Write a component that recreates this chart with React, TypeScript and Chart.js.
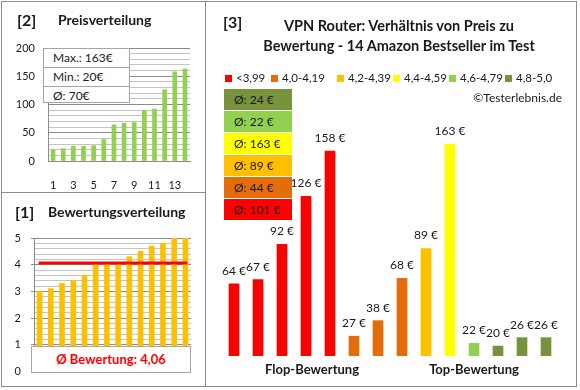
import React, { useEffect, useRef } from 'react';
import { Chart, registerables } from 'chart.js';

Chart.register(...registerables);

const FONT = 'Lato, "Open Sans", sans-serif';
const TEXT = '#1a1a1a';

// Panel [2] Preisverteilung
const priceCats = ['1', '2', '3', '4', '5', '6', '7', '8', '9', '10', '11', '12', '13', '14'];
const prices = [20, 22, 26, 26, 27, 38, 64, 67, 68, 89, 92, 126, 158, 163];

// Panel [1] Bewertungsverteilung
const ratingCats = ['1', '2', '3', '4', '5', '6', '7', '8', '9', '10', '11', '12', '13', '14'];
const ratings = [3.0, 3.1, 3.3, 3.4, 3.6, 4.0, 4.0, 4.0, 4.3, 4.5, 4.7, 4.8, 5.0, 5.0];
const ratingAvg = 4.06;

// Panel [3] Verhältnis von Preis zu Bewertung
const mainCats = ['1', '2', '3', '4', '5', '6', '7', '8', '9', '10', '11', '12', '13', '14'];
const mainPrices = [64, 67, 92, 126, 158, 27, 38, 68, 89, 163, 22, 20, 26, 26];
const mainGroup = [0, 0, 0, 0, 0, 1, 1, 1, 2, 3, 4, 5, 5, 5];
const legendLabels = ['<3,99', '4,0-4,19', '4,2-4,39', '4,4-4,59', '4,6-4,79', '4,8-5,0'];
const legendColors = ['#ff0000', '#e46c0a', '#ffc000', '#ffff00', '#92d050', '#77933c'];
const groupAverages = [101, 44, 89, 163, 22, 24];
const axisGroups = ['Flop-Bewertung', 'Top-Bewertung'];
const mainAxisMin = 13;
const mainAxisMax = 180;

Chart.defaults.font.family = FONT;
Chart.defaults.color = TEXT;

function T(props: { x: number; y: number; size: number; bold?: boolean; color?: string; align?: 'left' | 'center' | 'right'; children: React.ReactNode }) {
  const { x, y, size, bold, color, align = 'left', children } = props;
  const tx = align === 'center' ? '-50%' : align === 'right' ? '-100%' : '0';
  return (
    <div
      style={{
        position: 'absolute',
        left: x,
        top: y,
        transform: `translate(${tx}, -50%)`,
        fontSize: size,
        fontWeight: bold ? 700 : 400,
        color: color || TEXT,
        whiteSpace: 'nowrap',
        lineHeight: 1,
      }}
    >
      {children}
    </div>
  );
}

export default function App() {
  const c2 = useRef<HTMLCanvasElement>(null);
  const c1 = useRef<HTMLCanvasElement>(null);
  const c3 = useRef<HTMLCanvasElement>(null);

  useEffect(() => {
    const isInt = (v: number) => Math.abs(v - Math.round(v)) < 1e-6;

    const chart2 = new Chart(c2.current!, {
      type: 'bar',
      data: {
        labels: priceCats,
        datasets: [{ data: prices, backgroundColor: '#92d050', barThickness: 4 }],
      },
      options: {
        responsive: false,
        animation: false,
        layout: { padding: { top: 48, right: 10, left: 0, bottom: 0 } },
        plugins: { legend: { display: false }, tooltip: { enabled: false } },
        scales: {
          x: {
            grid: { display: false },
            border: { color: '#8c8c8c' },
            ticks: {
              autoSkip: false,
              maxRotation: 0,
              padding: 10,
              font: { size: 11 },
              callback: (_v: any, i: number) => (i % 2 === 0 ? priceCats[i] : ''),
            },
            afterFit: (s: any) => { s.height = 31; },
          },
          y: {
            min: 0,
            max: 200,
            grid: {
              drawTicks: false,
              color: (ctx: any) => (ctx.tick && ctx.tick.value % 50 === 0 ? '#8c8c8c' : '#c4c4c4'),
            },
            border: { color: '#8c8c8c' },
            ticks: {
              stepSize: 10,
              autoSkip: false,
              padding: 13,
              font: { size: 11 },
              callback: (v: any) => (Number(v) % 50 === 0 ? String(v) : ''),
            },
            afterFit: (s: any) => { s.width = 48; },
          },
        },
      },
    } as any);

    const avgLine = {
      id: 'avgLine',
      afterDatasetsDraw(chart: any) {
        const { ctx, scales } = chart;
        const y = scales.y.getPixelForValue(ratingAvg);
        const x0 = scales.x.getPixelForValue(0) - 1;
        const x1 = scales.x.getPixelForValue(ratings.length - 1) + 2;
        ctx.save();
        ctx.strokeStyle = '#ff0000';
        ctx.lineWidth = 3;
        ctx.beginPath();
        ctx.moveTo(x0, y);
        ctx.lineTo(x1, y);
        ctx.stroke();
        ctx.restore();
      },
    };

    const chart1 = new Chart(c1.current!, {
      type: 'bar',
      data: {
        labels: ratingCats,
        datasets: [{ data: ratings, backgroundColor: '#ffc000', barThickness: 5 }],
      },
      options: {
        responsive: false,
        animation: false,
        layout: { padding: { top: 46, right: 14, left: 0, bottom: 14 } },
        plugins: { legend: { display: false }, tooltip: { enabled: false } },
        scales: {
          x: { display: false },
          y: {
            min: 0,
            max: 5,
            grid: {
              tickLength: 3,
              color: (ctx: any) => (ctx.tick && isInt(ctx.tick.value) ? '#8c8c8c' : '#c4c4c4'),
              tickColor: (ctx: any) => (ctx.tick && isInt(ctx.tick.value) ? '#8c8c8c' : 'rgba(0,0,0,0)'),
            },
            border: { color: '#8c8c8c' },
            ticks: {
              stepSize: 0.2,
              autoSkip: false,
              padding: 10,
              font: { size: 11 },
              callback: (v: any) => (isInt(Number(v)) ? String(Math.round(Number(v))) : ''),
            },
            afterFit: (s: any) => { s.width = 34; },
          },
        },
      },
      plugins: [avgLine],
    } as any);

    const barLabels = {
      id: 'barLabels',
      afterDatasetsDraw(chart: any) {
        const { ctx } = chart;
        const meta = chart.getDatasetMeta(0);
        ctx.save();
        ctx.font = `12px ${FONT}`;
        ctx.fillStyle = TEXT;
        ctx.textAlign = 'center';
        ctx.textBaseline = 'middle';
        meta.data.forEach((el: any, i: number) => {
          ctx.fillText(`${mainPrices[i]} €`, el.x, el.y - 13);
        });
        ctx.restore();
      },
    };

    const chart3 = new Chart(c3.current!, {
      type: 'bar',
      data: {
        labels: mainCats,
        datasets: [
          {
            data: mainPrices,
            backgroundColor: mainGroup.map((g) => legendColors[g]),
            barThickness: 10,
          },
        ],
      },
      options: {
        responsive: false,
        animation: false,
        layout: { padding: { top: 10, right: 19, left: 16, bottom: 32 } },
        plugins: { legend: { display: false }, tooltip: { enabled: false } },
        scales: {
          x: { display: false },
          y: { display: false, min: mainAxisMin, max: mainAxisMax },
        },
      },
      plugins: [barLabels],
    } as any);

    return () => {
      chart2.destroy();
      chart1.destroy();
      chart3.destroy();
    };
  }, []);

  const pMax = Math.max(...prices);
  const pMin = Math.min(...prices);
  const pAvg = Math.round(prices.reduce((a, b) => a + b, 0) / prices.length);
  const statRows = [`Max.: ${pMax}€`, `Min.: ${pMin}€`, `Ø: ${pAvg}€`];
  const legendX = [225, 271, 337, 393, 449, 505];

  return (
    <div
      style={{
        position: 'absolute',
        left: 0,
        top: 0,
        width: 580,
        height: 390,
        background: '#fff',
        fontFamily: FONT,
        color: TEXT,
        overflow: 'hidden',
      }}
    >
      <canvas ref={c2} width={200} height={192} style={{ position: 'absolute', left: 0, top: 0, width: 200, height: 192 }} />
      <canvas ref={c1} width={205} height={196} style={{ position: 'absolute', left: 0, top: 192, width: 205, height: 196 }} />
      <canvas ref={c3} width={371} height={278} style={{ position: 'absolute', left: 206, top: 110, width: 371, height: 278 }} />

      {/* frame */}
      <div style={{ position: 'absolute', left: 1, top: 1, width: 576, height: 386, border: '1px solid #8c8c8c', boxSizing: 'border-box' }} />
      <div style={{ position: 'absolute', left: 205, top: 1, width: 1, height: 386, background: '#8c8c8c' }} />
      <div style={{ position: 'absolute', left: 1, top: 192, width: 204, height: 1, background: '#8c8c8c' }} />

      {/* panel 2 */}
      <T x={17} y={20} size={16} bold>[2]</T>
      <T x={58} y={20} size={14} bold>Preisverteilung</T>
      <div style={{ position: 'absolute', left: 43, top: 48, width: 87, height: 55, background: '#fff', border: '1px solid #a6a6a6', boxSizing: 'border-box' }}>
        {statRows.map((r, i) => (
          <div
            key={i}
            style={{
              height: i < 2 ? 18 : 17,
              borderBottom: i < 2 ? '1px solid #a6a6a6' : 'none',
              fontSize: 12,
              lineHeight: '18px',
              paddingLeft: 9,
              whiteSpace: 'nowrap',
            }}
          >
            {r}
          </div>
        ))}
      </div>

      {/* panel 1 */}
      <T x={15} y={212} size={16} bold>[1]</T>
      <T x={48} y={212} size={14} bold>Bewertungsverteilung</T>
      <div
        style={{
          position: 'absolute',
          left: 31,
          top: 346,
          width: 160,
          height: 27,
          background: '#fff',
          border: '1px solid #a6a6a6',
          boxSizing: 'border-box',
          color: '#ff0000',
          fontSize: 13,
          fontWeight: 700,
          textAlign: 'center',
          lineHeight: '25px',
        }}
      >
        Ø Bewertung: {ratingAvg.toFixed(2).replace('.', ',')}
      </div>

      {/* panel 3 */}
      <T x={223} y={22} size={16} bold>[3]</T>
      <T x={399} y={26} size={14.5} bold align="center">VPN Router: Verhältnis von Preis zu</T>
      <T x={399} y={46} size={14.5} bold align="center">Bewertung - 14 Amazon Bestseller im Test</T>
      {legendLabels.map((l, i) => (
        <div key={l} style={{ position: 'absolute', left: legendX[i], top: 72, height: 12, display: 'flex', alignItems: 'center', whiteSpace: 'nowrap' }}>
          <div style={{ width: 7, height: 7, background: legendColors[i], marginRight: 4 }} />
          <span style={{ fontSize: 11.5, lineHeight: 1 }}>{l}</span>
        </div>
      ))}
      <T x={562} y={98} size={12} align="right">©Testerlebnis.de</T>
      {groupAverages
        .map((v, i) => ({ v, c: legendColors[i] }))
        .reverse()
        .map((g, i) => (
          <div
            key={i}
            style={{
              position: 'absolute',
              left: 224,
              top: 89 + i * 22,
              width: 68,
              height: 21,
              background: g.c,
              fontSize: 12,
              lineHeight: '21px',
              paddingLeft: 10,
              boxSizing: 'border-box',
              whiteSpace: 'nowrap',
            }}
          >
            Ø: {g.v} €
          </div>
        ))}
      <T x={312} y={369} size={13} bold align="center">{axisGroups[0]}</T>
      <T x={474} y={369} size={13} bold align="center">{axisGroups[1]}</T>
    </div>
  );
}
